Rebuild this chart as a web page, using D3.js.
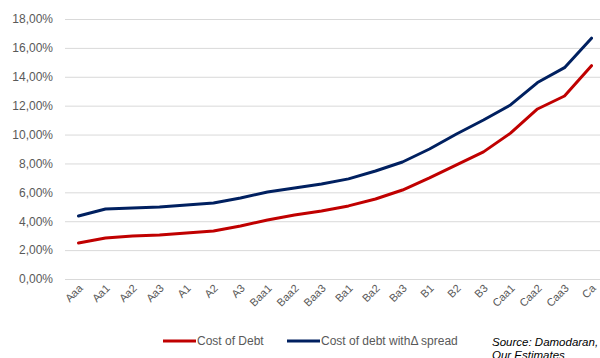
<!DOCTYPE html>
<html>
<head>
<meta charset="utf-8">
<script src="https://cdn.jsdelivr.net/npm/d3@7"></script>
<style>
  html, body { margin: 0; padding: 0; background: #fff; }
  svg { display: block; }
</style>
</head>
<body>
<div id="chart"></div>
<script>
// Rating classes along the x axis
const ratings = ["Aaa","Aa1","Aa2","Aa3","A1","A2","A3","Baa1","Baa2","Baa3",
                 "Ba1","Ba2","Ba3","B1","B2","B3","Caa1","Caa2","Caa3","Ca"];

// Cost of debt by rating (%)
const costOfDebt = [2.49, 2.84, 2.98, 3.05, 3.19, 3.32, 3.67, 4.09, 4.43, 4.71,
                    5.06, 5.54, 6.16, 7.00, 7.90, 8.80, 10.10, 11.77, 12.67, 14.77];

// Cost of debt including the spread change (%)
const costWithSpread = [4.36, 4.85, 4.92, 4.99, 5.12, 5.26, 5.61, 6.02, 6.30, 6.58,
                        6.93, 7.48, 8.10, 9.00, 10.04, 11.01, 12.05, 13.60, 14.63, 16.67];

// Y axis ticks (%)
const yTicks = [0, 2, 4, 6, 8, 10, 12, 14, 16, 18];

const seriesNames = ["Cost of Debt", "Cost of debt with\u0394 spread"];
const seriesColors = ["#c00000", "#002060"];
const sourceLines = ["Source: Damodaran,", "Our Estimates"];

const W = 600, H = 358;
const svg = d3.select("#chart").append("svg").attr("width", W).attr("height", H);

const x = d3.scaleBand().domain(ratings).range([65, 605]);
const y = d3.scaleLinear().domain([0, 18]).range([279, 19]);

const fontFamily = "'Liberation Sans', Arial, sans-serif";
const textColor = "#595959";

// Horizontal gridlines and y labels
const yAxis = d3.axisLeft(y).tickValues(yTicks)
  .tickSize(-(605 - 65))
  .tickPadding(12)
  .tickFormat(d => d3.format(".2f")(d).replace(".", ",") + "%");

const gy = svg.append("g").attr("transform", "translate(65,0)").call(yAxis);
gy.select(".domain").remove();
gy.selectAll(".tick line").attr("stroke", "#d9d9d9").attr("stroke-width", 1);
gy.selectAll(".tick text")
  .attr("fill", textColor)
  .style("font-family", fontFamily)
  .style("font-size", "12px");

// X axis category labels, rotated
const xAxis = d3.axisBottom(x).tickSize(0).tickPadding(0);
const gx = svg.append("g").attr("transform", "translate(0,279)").call(xAxis);
gx.select(".domain").remove();
gx.selectAll(".tick text")
  .attr("fill", textColor)
  .style("font-family", fontFamily)
  .style("font-size", "11px")
  .attr("text-anchor", "end")
  .attr("dy", null)
  .attr("y", 0)
  .attr("transform", "translate(5,10) rotate(-45)");

// Lines
const line = d3.line()
  .x((d, i) => x(ratings[i]) + x.bandwidth() / 2)
  .y(d => y(d));

[costOfDebt, costWithSpread].forEach((vals, k) => {
  svg.append("path")
    .datum(vals)
    .attr("fill", "none")
    .attr("stroke", seriesColors[k])
    .attr("stroke-width", 3)
    .attr("stroke-linejoin", "round")
    .attr("stroke-linecap", "round")
    .attr("d", line);
});

// Legend
const legendX = [163, 287];
seriesNames.forEach((name, k) => {
  const g = svg.append("g").attr("transform", `translate(${legendX[k]},341)`);
  g.append("line").attr("x1", 0).attr("x2", 33).attr("y1", 0).attr("y2", 0)
    .attr("stroke", seriesColors[k]).attr("stroke-width", 3);
  g.append("text").attr("x", 34).attr("y", 4)
    .attr("fill", textColor)
    .style("font-family", fontFamily)
    .style("font-size", "12px")
    .text(name);
});

// Source note
sourceLines.forEach((t, i) => {
  svg.append("text")
    .attr("x", 492).attr("y", 346 + i * 13)
    .attr("fill", "#000")
    .style("font-family", fontFamily)
    .style("font-size", "11.5px")
    .style("font-style", "italic")
    .text(t);
});
</script>
</body>
</html>
